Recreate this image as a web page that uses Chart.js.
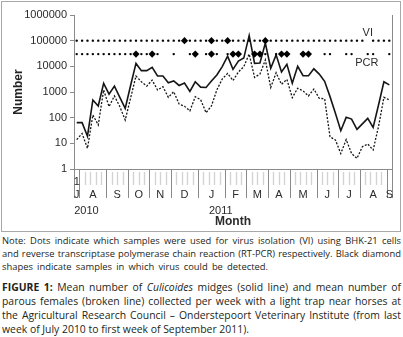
<!DOCTYPE html>
<html><head><meta charset="utf-8">
<script src="https://cdn.jsdelivr.net/npm/chart.js@4.4.1/dist/chart.umd.min.js"></script>
<style>
html,body{margin:0;padding:0;background:#fff;}
body{width:403px;height:337px;overflow:hidden;position:relative;font-family:"Open Sans",sans-serif;color:#231f20;}
#c{position:absolute;left:0;top:0;display:block;}
.blk{position:absolute;left:2px;width:399px;}
.blk div{white-space:nowrap;}
.note{font-size:9.4px;line-height:13px;}
.cap{font-size:10.4px;line-height:14px;}
</style></head>
<body>
<canvas id="c" width="403" height="234"></canvas>
<div class="blk note" style="top:234px">
<div data-w="399">Note: Dots indicate which samples were used for virus isolation (VI) using BHK-21 cells</div>
<div data-w="399">and reverse transcriptase polymerase chain reaction (RT-PCR) respectively. Black diamond</div>
<div data-w="266">shapes indicate samples in which virus could be detected.</div>
</div>
<div class="blk cap" style="top:280px">
<div data-w="399"><b>FIGURE 1:</b> Mean number of <i>Culicoides</i> midges (solid line) and mean number of</div>
<div data-w="399">parous females (broken line) collected per week with a light trap near horses at</div>
<div data-w="399">the Agricultural Research Council – Onderstepoort Veterinary Institute (from last</div>
<div>week of July 2010 to first week of September 2011).</div>
</div>
<script>
// ---- data ----
const monthLetters = ['J','A','S','O','N','D','J','F','M','A','M','J','J','A','S'];
const monthWeeks   = [1,5,4,4,4,5,5,4,4,4,5,4,4,5,1];
const yearLabels   = ['2010','2011'];
const yearFirstMonth = [0,6];
const yTickValues  = [1,10,100,1000,10000,100000,1000000];
const midges = [64,64,19,490,285,2170,830,1700,620,230,
  1800,13000,6800,6800,9100,4200,4200,2300,2700,1800,
  2250,1060,2500,1550,1500,2700,4600,9800,25000,7600,
  16000,21000,160000,13000,13500,80000,8400,28000,6000,12000,
  2200,10000,4300,4300,8000,5000,2600,660,150,31,
  103,88,35,57,94,42,310,2500,1900];
const parous = [14,24,6.4,127,52,1200,270,700,270,81,
  580,4200,2500,1700,2900,1200,1600,620,1030,340,
  280,185,660,500,156,285,1200,3200,5300,2800,
  6000,9700,30000,3700,5000,17700,1500,5600,2000,3100,
  600,1400,1100,700,1300,570,540,18,13.5,4,
  14,4,2.6,7.4,9.4,5.5,45,620,490];
const viLevel = 100000;
const pcrLevel = 30000;
const viUntestedWeeks  = [54];
const viPositiveWeeks  = [20,25,28,35];
const pcrTestedWeeks   = [0,1,2,3,4,5,6,7,8,9,10,11,12,13,14,15,18,21,22,24,25,26,28,29,30,33,34,35,37,38,39,42,43,46,47,50,51,54,55,58];
const pcrPositiveWeeks = [11,14,22,25,29,30,33,34,38,39,42,43];

// ---- justify caption lines ----
document.querySelectorAll('[data-w]').forEach(el=>{
  const target = +el.dataset.w;
  el.style.display='inline-block'; el.style.wordSpacing='0px';
  const w = el.getBoundingClientRect().width;
  const n = (el.textContent.match(/ /g)||[]).length;
  el.style.wordSpacing = ((target - w)/n) + 'px';
  el.style.display='block';
});

// ---- derived ----
const weekLabels = [];
monthWeeks.forEach((n,m)=>{ for(let k=1;k<=n;k++) weekLabels.push(monthLetters[m]+k); });
const weekCount = weekLabels.length;
const viData = weekLabels.map((_,i)=> viUntestedWeeks.includes(i) ? null : viLevel);
const viStyle = weekLabels.map((_,i)=> viPositiveWeeks.includes(i) ? 'rectRot' : 'circle');
const viRad = weekLabels.map((_,i)=> viPositiveWeeks.includes(i) ? 3.6 : 1.2);
const pcrData = weekLabels.map((_,i)=> pcrTestedWeeks.includes(i) ? pcrLevel : null);
const pcrStyle = weekLabels.map((_,i)=> pcrPositiveWeeks.includes(i) ? 'rectRot' : 'circle');
const pcrRad = weekLabels.map((_,i)=> pcrPositiveWeeks.includes(i) ? 3.6 : 1.2);

const FONT = '"Liberation Sans", Arial, sans-serif';
const TXT = '#2b2b2b';
const AXIS = '#8a8a8a';

function seg(ctx,x1,y1,x2,y2){ctx.beginPath();ctx.moveTo(x1,y1);ctx.lineTo(x2,y2);ctx.stroke();}

const decor = {
  id:'decor',
  afterDraw(chart){
    const {ctx, chartArea:a, scales:{x,y}} = chart;
    const p0 = x.getPixelForValue(0), step = x.getPixelForValue(1) - p0;
    const bx = i => p0 - step/2 + i*step;
    const cx = i => p0 + i*step;
    ctx.save();
    ctx.strokeStyle = AXIS; ctx.lineWidth = 1;
    const rx = Math.round(a.right)+0.5;
    seg(ctx, rx, a.top, rx, a.bottom);
    const starts = []; let acc = 0;
    monthWeeks.forEach(n=>{starts.push(acc); acc+=n;});
    const bounds = new Set([...starts, acc]);
    for(let i=0;i<=weekCount;i++){
      const px = Math.round(bx(i));
      if(bounds.has(i)){
        ctx.strokeStyle = AXIS; ctx.lineWidth = 1;
        seg(ctx, px+0.5, a.bottom, px+0.5, a.bottom+29);
      } else {
        ctx.strokeStyle = '#d2d2d2'; ctx.lineWidth = 1.3;
        seg(ctx, px+0.5, a.bottom+3, px+0.5, a.bottom+16);
      }
    }
    ctx.fillStyle = TXT;
    ctx.font = '11px '+FONT;
    ctx.textAlign = 'center'; ctx.textBaseline = 'middle';
    ctx.fillText('1', cx(0), a.bottom+13);
    const mCenter = m => (bx(starts[m]) + bx(starts[m]+monthWeeks[m]))/2;
    monthLetters.forEach((l,m)=>{ ctx.fillText(l, mCenter(m), a.bottom+26); });
    ctx.textAlign = 'left';
    yearLabels.forEach((t,k)=>{ ctx.fillText(t, mCenter(yearFirstMonth[k]) - 2.5, a.bottom+42); });
    ctx.textAlign = 'center';
    ctx.font = 'bold 12px '+FONT;
    ctx.fillText('Month', (a.left+a.right)/2, a.bottom+53);
    ctx.font = '11px '+FONT;
    ctx.fillText('VI', cx(54), y.getPixelForValue(viLevel)-8);
    ctx.fillText('PCR', cx(54)-1, y.getPixelForValue(pcrLevel)+9);
    ctx.strokeStyle = '#a8a8a8'; ctx.lineWidth = 1;
    ctx.strokeRect(1.5, 1.5, 399, 230);
    ctx.restore();
  }
};

new Chart(document.getElementById('c'), {
  type:'line',
  data:{
    labels: weekLabels,
    datasets:[
      {label:'Midges', data:midges, borderColor:'#151515', borderWidth:1.6, pointRadius:0, tension:0, order:2},
      {label:'Parous females', data:parous, borderColor:'#151515', borderWidth:1.3, borderDash:[2,1.6], pointRadius:0, tension:0, order:3},
      {label:'VI', data:viData, showLine:false, pointStyle:viStyle, pointRadius:viRad, pointBackgroundColor:'#000', pointBorderColor:'#000', pointBorderWidth:0, order:1},
      {label:'PCR', data:pcrData, showLine:false, pointStyle:pcrStyle, pointRadius:pcrRad, pointBackgroundColor:'#000', pointBorderColor:'#000', pointBorderWidth:0, order:1}
    ]
  },
  options:{
    responsive:false, animation:false, devicePixelRatio:1,
    layout:{padding:{left:0,right:11,top:15,bottom:0}},
    plugins:{legend:{display:false}, tooltip:{enabled:false}},
    scales:{
      x:{type:'category', offset:true, grid:{display:false}, ticks:{display:false},
         border:{display:true, color:AXIS}, afterFit(s){s.height=65;}},
      y:{type:'logarithmic', min:1, max:1000000,
         afterBuildTicks(s){ s.ticks = yTickValues.map(v=>({value:v})); },
         ticks:{callback:(v)=>String(v), font:{family:FONT, size:11}, color:TXT, padding:3},
         grid:{drawOnChartArea:false, drawTicks:true, tickLength:4, color:AXIS},
         border:{display:true, color:AXIS},
         title:{display:true, text:'Number', font:{family:FONT, size:12, weight:'bold'}, color:'#222', padding:{top:11,bottom:0}},
         afterFit(s){s.width=74;}}
    }
  },
  plugins:[decor]
});
</script>
</body></html>
